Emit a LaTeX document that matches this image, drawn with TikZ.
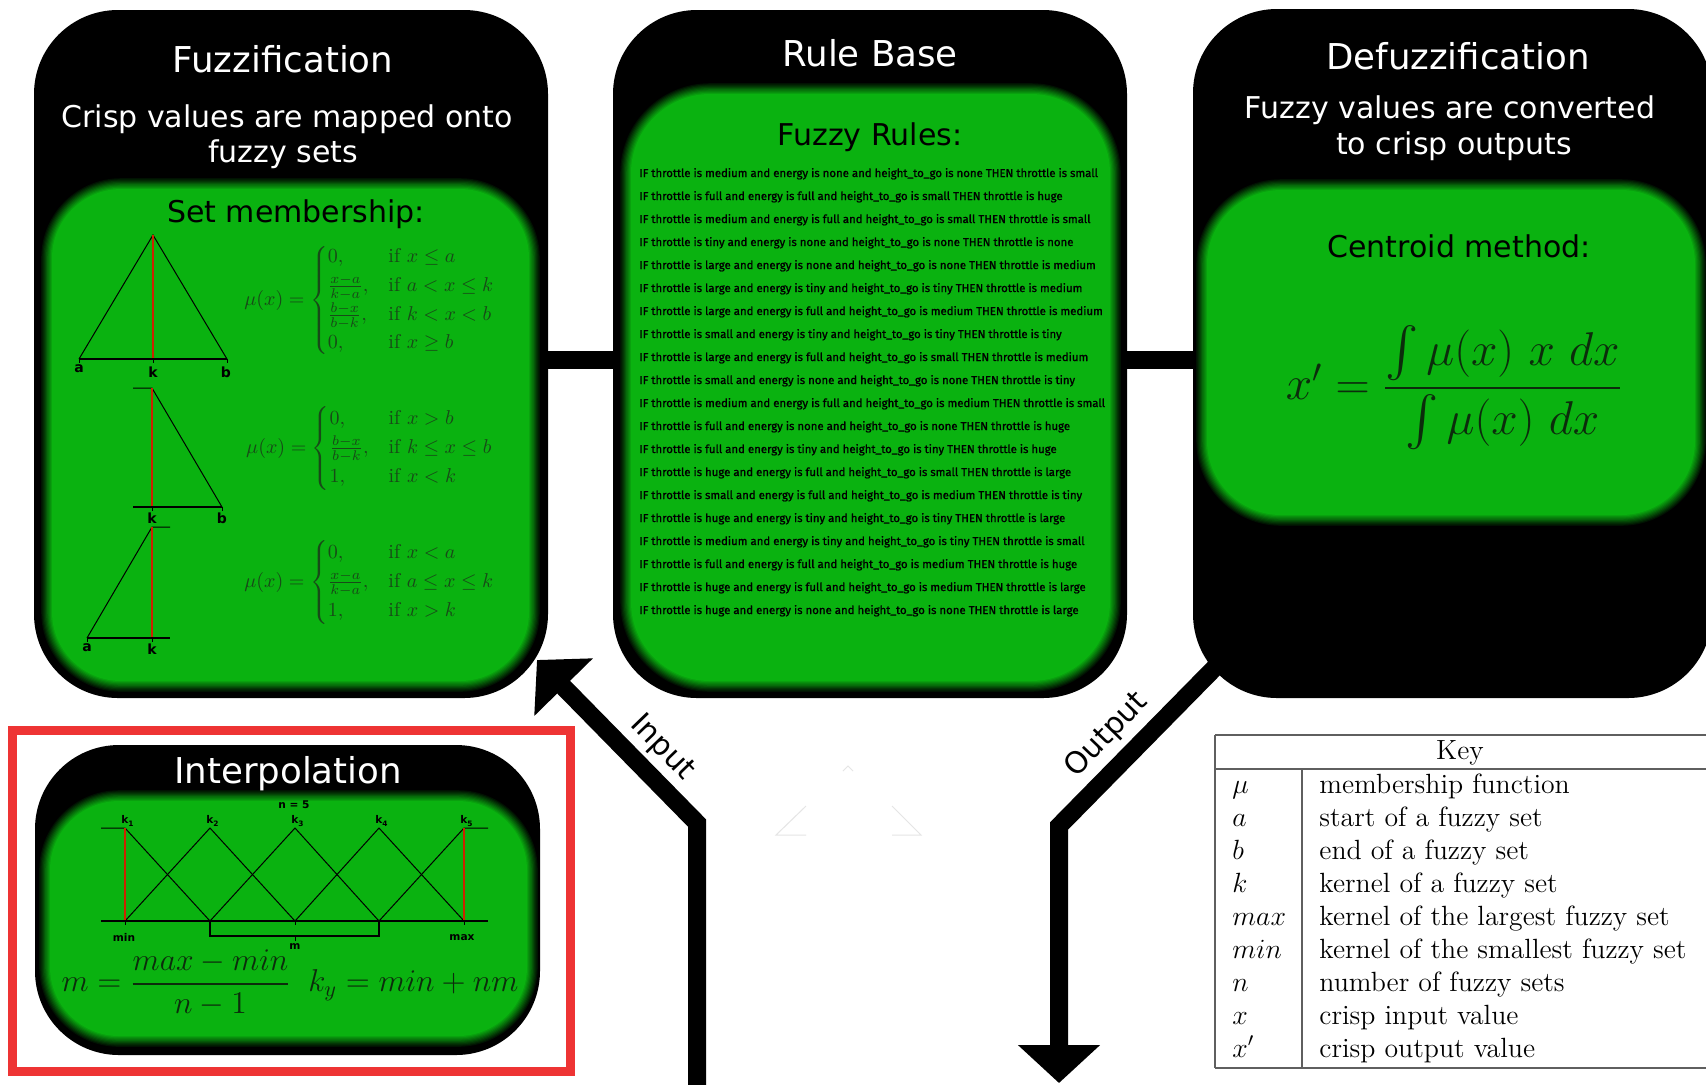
\RequirePackage{fix-cm}
\documentclass[tikz,border=0pt]{standalone}
\usepackage{amsmath}
\usepackage{fontspec}
\newfontfamily\dejavu{DejaVu Sans}
\newfontfamily\rulefont[FakeBold=1.2]{Fira Sans}
\usetikzlibrary{arrows.meta,fit}

\definecolor{panelgreen}{RGB}{10,178,16}
\definecolor{mathgreen}{RGB}{24,74,24}
\definecolor{mathdark}{RGB}{12,44,12}
\definecolor{keyline}{RGB}{95,95,95}
\definecolor{framered}{RGB}{238,52,52}
\definecolor{kernelred}{RGB}{205,35,0}

% green panel whose rim fades softly into the black box around it
% #1,#2 = top-left corner, #3,#4 = bottom-right corner, #5 = corner radius (px)
\newcommand\softpanel[5]{%
  \foreach \i in {0,...,10}{%
    \pgfmathsetmacro\dd{(\i-5)*1.2}%
    \pgfmathtruncatemacro\cc{\i*10}%
    \pgfmathsetmacro\rr{max(#5-\dd,1)*0.5}%
    \fill[panelgreen!\cc!black, rounded corners=\rr pt] (#1+\dd,#2+\dd) rectangle (#3-\dd,#4-\dd);
  }}

\begin{document}
\begin{tikzpicture}[x=0.5pt,y=-0.5pt,
  box/.style={fill=black, inner sep=0pt, rounded corners=42pt},
  bar/.style={line width=9pt},
  flow/.style={line width=9pt, line join=miter, -{Triangle[width=40pt,length=19pt]}},
  title/.style={text=white, font={\dejavu\fontsize{17.8}{20}\selectfont}, anchor=base, inner sep=0pt},
  subtitle/.style={text=white, font={\dejavu\fontsize{15}{18}\selectfont}, anchor=base, inner sep=0pt},
  heading/.style={text=black, font={\dejavu\fontsize{15}{18}\selectfont}, anchor=base, inner sep=0pt},
  ruletext/.style={font={\rulefont\fontsize{5.7}{6}\selectfont}, anchor=base west, inner sep=0pt},
  fmla/.style={text=mathgreen, font={\fontsize{10}{12}\selectfont}, inner sep=0pt},
  lbl/.style={font={\dejavu\bfseries\fontsize{7}{8}\selectfont}, inner sep=0pt},
  tinylbl/.style={font={\dejavu\bfseries\fontsize{5.3}{6}\selectfont}, inner sep=0pt},
  thinln/.style={line width=0.5pt, black},
  baseln/.style={line width=1.2pt, black},
  redln/.style={line width=0.8pt, kernelred},
  keytext/.style={font={\fontsize{13.9}{16}\selectfont}, anchor=base west, inner sep=0pt},
  keyln/.style={line width=0.7pt, keyline}]

\useasboundingbox (0,0) rectangle (1706,1084);
\fill[white] (0,0) rectangle (1706,1084);

% ---------- output path leaves the defuzzification box ----------
\coordinate (outS) at (1240,642);
\coordinate (outC) at (1059,826);
\coordinate (outT) at (1059,1083);
\draw[flow] (outS) -- (outC) -- (outT);

% ---------- the three stage boxes ----------
\node[box, fit={(34,10) (548,698)}] (fuzz) {};
\node[box, fit={(613,10) (1127,698)}] (rules) {};
\node[box, fit={(1193,9) (1712,698)}] (defuzz) {};

\coordinate (bary) at (0,360);
\draw[bar] (fuzz.east |- bary) -- (rules.west |- bary);
\draw[bar] (rules.east |- bary) -- (defuzz.west |- bary);

\softpanel{46}{183}{535}{687}{75}
\softpanel{625}{88}{1116}{687}{85}
\softpanel{1201}{184}{1701}{521}{80}

% ---------- Fuzzification ----------
\node[title] (fuzzT) at (283,72) {Fuzzification};
\node[subtitle] (fuzzS1) at (287,127) {Crisp values are mapped onto};
\node[subtitle] (fuzzS2) at (283,162) {fuzzy sets};
\node[heading] (fuzzH) at (296,222) {Set membership:};

% triangular set
\draw[thinln] (79,359) -- (153,235) -- (227,359);
\draw[redln] (153,235) -- (153,359);
\draw[baseln] (79,359) -- (227,359);
\foreach \t in {79,153,227} \draw[thinln] (\t,359) -- (\t,363);
\node[lbl] (t1a) at (79,369) {a};
\node[lbl] (t1k) at (153,372) {k};
\node[lbl] (t1b) at (226,372) {b};

% right shoulder set
\draw[thinln] (133,388) -- (152,388) -- (222,507);
\draw[redln] (152,388) -- (152,507);
\draw[baseln] (133,507) -- (222,507);
\foreach \t in {152,222} \draw[thinln] (\t,507) -- (\t,511);
\node[lbl] (t2k) at (152,518) {k};
\node[lbl] (t2b) at (222,518) {b};

% left shoulder set
\draw[thinln] (87,638) -- (152,527) -- (170,527);
\draw[redln] (152,527) -- (152,638);
\draw[baseln] (87,638) -- (170,638);
\foreach \t in {87,152} \draw[thinln] (\t,638) -- (\t,642);
\node[lbl] (t3a) at (87,648) {a};
\node[lbl] (t3k) at (152,649) {k};

\node[fmla] (f1) at (370,300) {$\mu(x)=\begin{cases}0, & \text{if } x\le a\\ \frac{x-a}{k-a}, & \text{if } a<x\le k\\ \frac{b-x}{b-k}, & \text{if } k<x<b\\ 0, & \text{if } x\ge b\end{cases}$};
\node[fmla] (f2) at (370,448) {$\mu(x)=\begin{cases}0, & \text{if } x>b\\ \frac{b-x}{b-k}, & \text{if } k\le x\le b\\ 1, & \text{if } x<k\end{cases}$};
\node[fmla] (f3) at (370,582) {$\mu(x)=\begin{cases}0, & \text{if } x<a\\ \frac{x-a}{k-a}, & \text{if } a\le x\le k\\ 1, & \text{if } x>k\end{cases}$};

% ---------- Rule Base ----------
\node[title] (rulesT) at (870,66) {Rule Base};
\node[heading] (rulesH) at (870,145) {Fuzzy Rules:};
\foreach \r [count=\i] in {
  IF throttle is medium and energy is none and height\_to\_go is none THEN throttle is small,
  IF throttle is full and energy is full and height\_to\_go is small THEN throttle is huge,
  IF throttle is medium and energy is full and height\_to\_go is small THEN throttle is small,
  IF throttle is tiny and energy is none and height\_to\_go is none THEN throttle is none,
  IF throttle is large and energy is none and height\_to\_go is none THEN throttle is medium,
  IF throttle is large and energy is tiny and height\_to\_go is tiny THEN throttle is medium,
  IF throttle is large and energy is full and height\_to\_go is medium THEN throttle is medium,
  IF throttle is small and energy is tiny and height\_to\_go is tiny THEN throttle is tiny,
  IF throttle is large and energy is full and height\_to\_go is small THEN throttle is medium,
  IF throttle is small and energy is none and height\_to\_go is none THEN throttle is tiny,
  IF throttle is medium and energy is full and height\_to\_go is medium THEN throttle is small,
  IF throttle is full and energy is none and height\_to\_go is none THEN throttle is huge,
  IF throttle is full and energy is tiny and height\_to\_go is tiny THEN throttle is huge,
  IF throttle is huge and energy is full and height\_to\_go is small THEN throttle is large,
  IF throttle is small and energy is full and height\_to\_go is medium THEN throttle is tiny,
  IF throttle is huge and energy is tiny and height\_to\_go is tiny THEN throttle is large,
  IF throttle is medium and energy is tiny and height\_to\_go is tiny THEN throttle is small,
  IF throttle is full and energy is full and height\_to\_go is medium THEN throttle is huge,
  IF throttle is huge and energy is full and height\_to\_go is medium THEN throttle is large,
  IF throttle is huge and energy is none and height\_to\_go is none THEN throttle is large}
  \node[ruletext] (rule\i) at (639,{177+23*(\i-1)}) {\r};

% ---------- Defuzzification ----------
\node[title] (defT) at (1458,69) {Defuzzification};
\node[subtitle] (defS1) at (1450,118) {Fuzzy values are converted};
\node[subtitle] (defS2) at (1454,154) {to crisp outputs};
\node[heading] (defH) at (1459,257) {Centroid method:};
\node[text=mathdark, inner sep=0pt, font={\fontsize{23.7}{28}\selectfont}] (centroid) at (1454,388)
  {$x'=\dfrac{\int\mu(x)\ x\ dx}{\int\mu(x)\ dx}$};

% ---------- Interpolation ----------
\node[draw=framered, line width=4.5pt, inner sep=0pt, fit={(12,730) (570,1071)}] (frame) {};
\node[box, fit={(35,745) (540,1055)}] (interp) {};
\softpanel{44}{795}{533}{1042}{75}
\node[title] (interpT) at (288,783) {Interpolation};
\node[tinylbl] (nfive) at (294,805) {n = 5};
\draw[thinln] (101,828) -- (125,828) -- (210,921);
\draw[thinln] (125,921) -- (210,828) -- (295,921);
\draw[thinln] (210,921) -- (295,828) -- (379,921);
\draw[thinln] (295,921) -- (379,828) -- (464,921);
\draw[thinln] (379,921) -- (464,828) -- (488,828);
\draw[redln] (125,828) -- (125,921);
\draw[redln] (464,828) -- (464,921);
\draw[baseln] (101,921) -- (488,921);
\foreach \t in {125,210,295,379,464} \draw[thinln] (\t,921) -- (\t,925);
\draw[baseln] (210,921) -- (210,936) -- (379,936) -- (379,921);
\draw[thinln] (295,936) -- (295,941);
\foreach \t/\n in {125/1,210/2,295/3,379/4,464/5}
  \node[tinylbl] (kk\n) at (\t+3,821) {k\textsubscript{\n}};
\node[tinylbl] (minL) at (124,937) {min};
\node[tinylbl] (maxL) at (462,938) {max};
\node[tinylbl] (mL) at (295,947) {m};
\node[text=mathdark, inner sep=0pt, font={\fontsize{15.8}{18}\selectfont}] (interpF) at (290,983)
  {$m=\dfrac{max-min}{n-1}\;\;k_y=min+nm$};

% ---------- input path into the fuzzification box ----------
\coordinate (inS) at (697,1090);
\coordinate (inC) at (697,823);
\coordinate (inT) at (537,660);
\draw[flow] (inS) -- (inC) -- (inT);
\node[text=black, font={\dejavu\fontsize{15}{18}\selectfont}, rotate=-46, inner sep=0pt] (inL) at (662,748) {Input};
\node[text=black, font={\dejavu\fontsize{15}{18}\selectfont}, rotate=46, inner sep=0pt] (outL) at (1107,735) {Output};

% faint marks in the middle of the sheet
\draw[line width=0.5pt, black!10] (806,806) -- (776,835) -- (806,835);
\draw[line width=0.5pt, black!10] (892,806) -- (921,835) -- (892,835);
\draw[line width=0.5pt, black!10] (843,771) -- (848,766) -- (853,771);

% ---------- key ----------
\draw[keyln] (1215,735) -- (1712,735);
\draw[keyln] (1215,769) -- (1712,769);
\draw[keyln] (1215,1068) -- (1712,1068);
\draw[keyln] (1215,735) -- (1215,1068);
\draw[keyln] (1302,769) -- (1302,1068);
\node[keytext, anchor=base] (keyH) at (1460,759) {Key};
\foreach \s/\d [count=\i] in {{$\mu$}/membership function, {$a$}/start of a fuzzy set,
  {$b$}/end of a fuzzy set, {$k$}/kernel of a fuzzy set, {$max$}/kernel of the largest fuzzy set,
  {$min$}/kernel of the smallest fuzzy set, {$n$}/number of fuzzy sets,
  {$x$}/crisp input value, {$x'$}/crisp output value}{
  \node[keytext] (ks\i) at (1232,{793+33*(\i-1)}) {\s};
  \node[keytext] (kd\i) at (1319,{793+33*(\i-1)}) {\d};
}
\end{tikzpicture}
\end{document}
